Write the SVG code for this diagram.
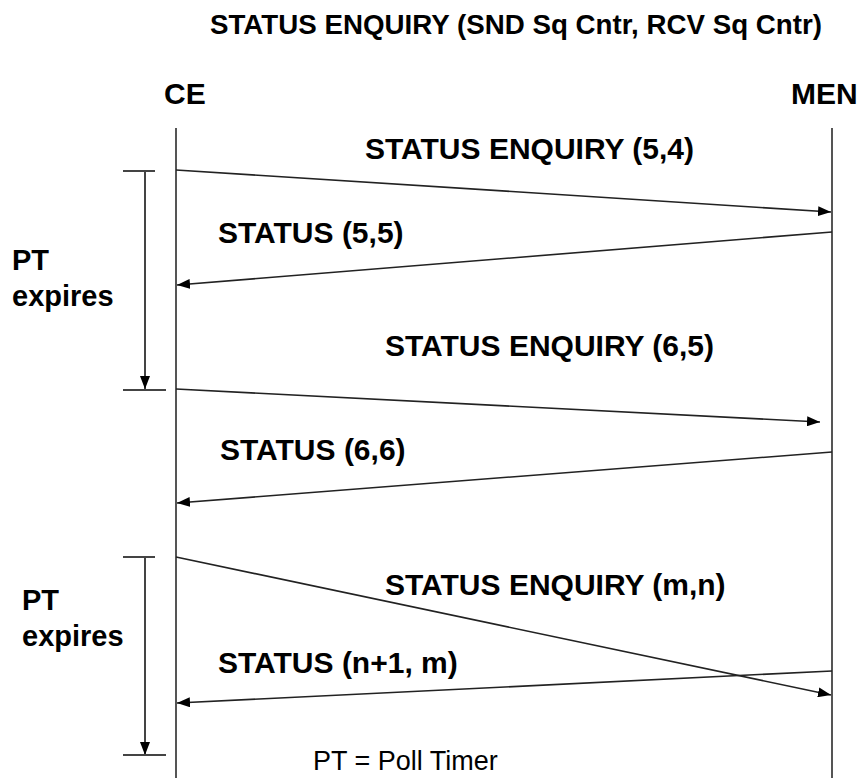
<svg xmlns="http://www.w3.org/2000/svg" width="860" height="778" viewBox="0 0 860 778">
<style>
text{font-family:"Liberation Sans",Arial,sans-serif;fill:#000}
.b{font-weight:bold;font-size:30px}
.p{font-weight:bold;font-size:29px}
.t{font-weight:bold;font-size:27px}
.n{font-size:27px}
.life{stroke:#555;stroke-width:2;fill:none}
.msg{stroke:#222;stroke-width:1.6;fill:none;marker-end:url(#ah)}
.bar{stroke:#444;stroke-width:2;fill:none}
.tm{stroke:#444;stroke-width:2;fill:none;marker-end:url(#ah)}
</style>
<defs>
<marker id="ah" markerUnits="userSpaceOnUse" markerWidth="13" markerHeight="10" refX="13" refY="5" orient="auto">
<path d="M0,0 L13,5 L0,10 z" fill="#000"/>
</marker>
</defs>
<rect width="860" height="778" fill="#fff"/>
<text id="title" class="t" x="210" y="34" textLength="612" lengthAdjust="spacingAndGlyphs">STATUS ENQUIRY (SND Sq Cntr, RCV Sq Cntr)</text>
<g id="CE">
<text class="b" x="164" y="104">CE</text>
<line class="life" x1="176" y1="128" x2="176" y2="778"/>
</g>
<g id="MEN">
<text class="b" x="791" y="104">MEN</text>
<line class="life" x1="832" y1="128" x2="832" y2="778"/>
</g>
<g id="timer1">
<line class="bar" x1="123" y1="171" x2="155" y2="171"/>
<line class="tm" x1="145" y1="171" x2="145" y2="389"/>
<line class="bar" x1="123" y1="390" x2="166" y2="390"/>
<text class="p" x="12" y="270">PT</text>
<text class="p" x="12" y="306">expires</text>
</g>
<g id="timer2">
<line class="bar" x1="123" y1="557" x2="155" y2="557"/>
<line class="tm" x1="145" y1="557" x2="145" y2="755"/>
<line class="bar" x1="123" y1="755" x2="166" y2="755"/>
<text class="p" x="22" y="610">PT</text>
<text class="p" x="22" y="646">expires</text>
</g>
<g id="connectors">
<line class="msg" x1="176" y1="170" x2="831" y2="212"/>
<line class="msg" x1="832" y1="232" x2="177" y2="285"/>
<line class="msg" x1="176" y1="389" x2="820" y2="422"/>
<line class="msg" x1="832" y1="452" x2="177" y2="503"/>
<line class="msg" x1="176" y1="557" x2="831" y2="695"/>
<line class="msg" x1="832" y1="671" x2="177" y2="703"/>
</g>
<g id="labels">
<text class="b" x="365" y="159">STATUS ENQUIRY (5,4)</text>
<text class="b" x="218" y="243">STATUS (5,5)</text>
<text class="b" x="385" y="356">STATUS ENQUIRY (6,5)</text>
<text class="b" x="220" y="460">STATUS (6,6)</text>
<text class="b" x="385" y="595">STATUS ENQUIRY (m,n)</text>
<text class="b" x="218" y="673">STATUS (n+1, m)</text>
</g>
<text id="legend" class="n" x="313" y="770">PT = Poll Timer</text>
</svg>
